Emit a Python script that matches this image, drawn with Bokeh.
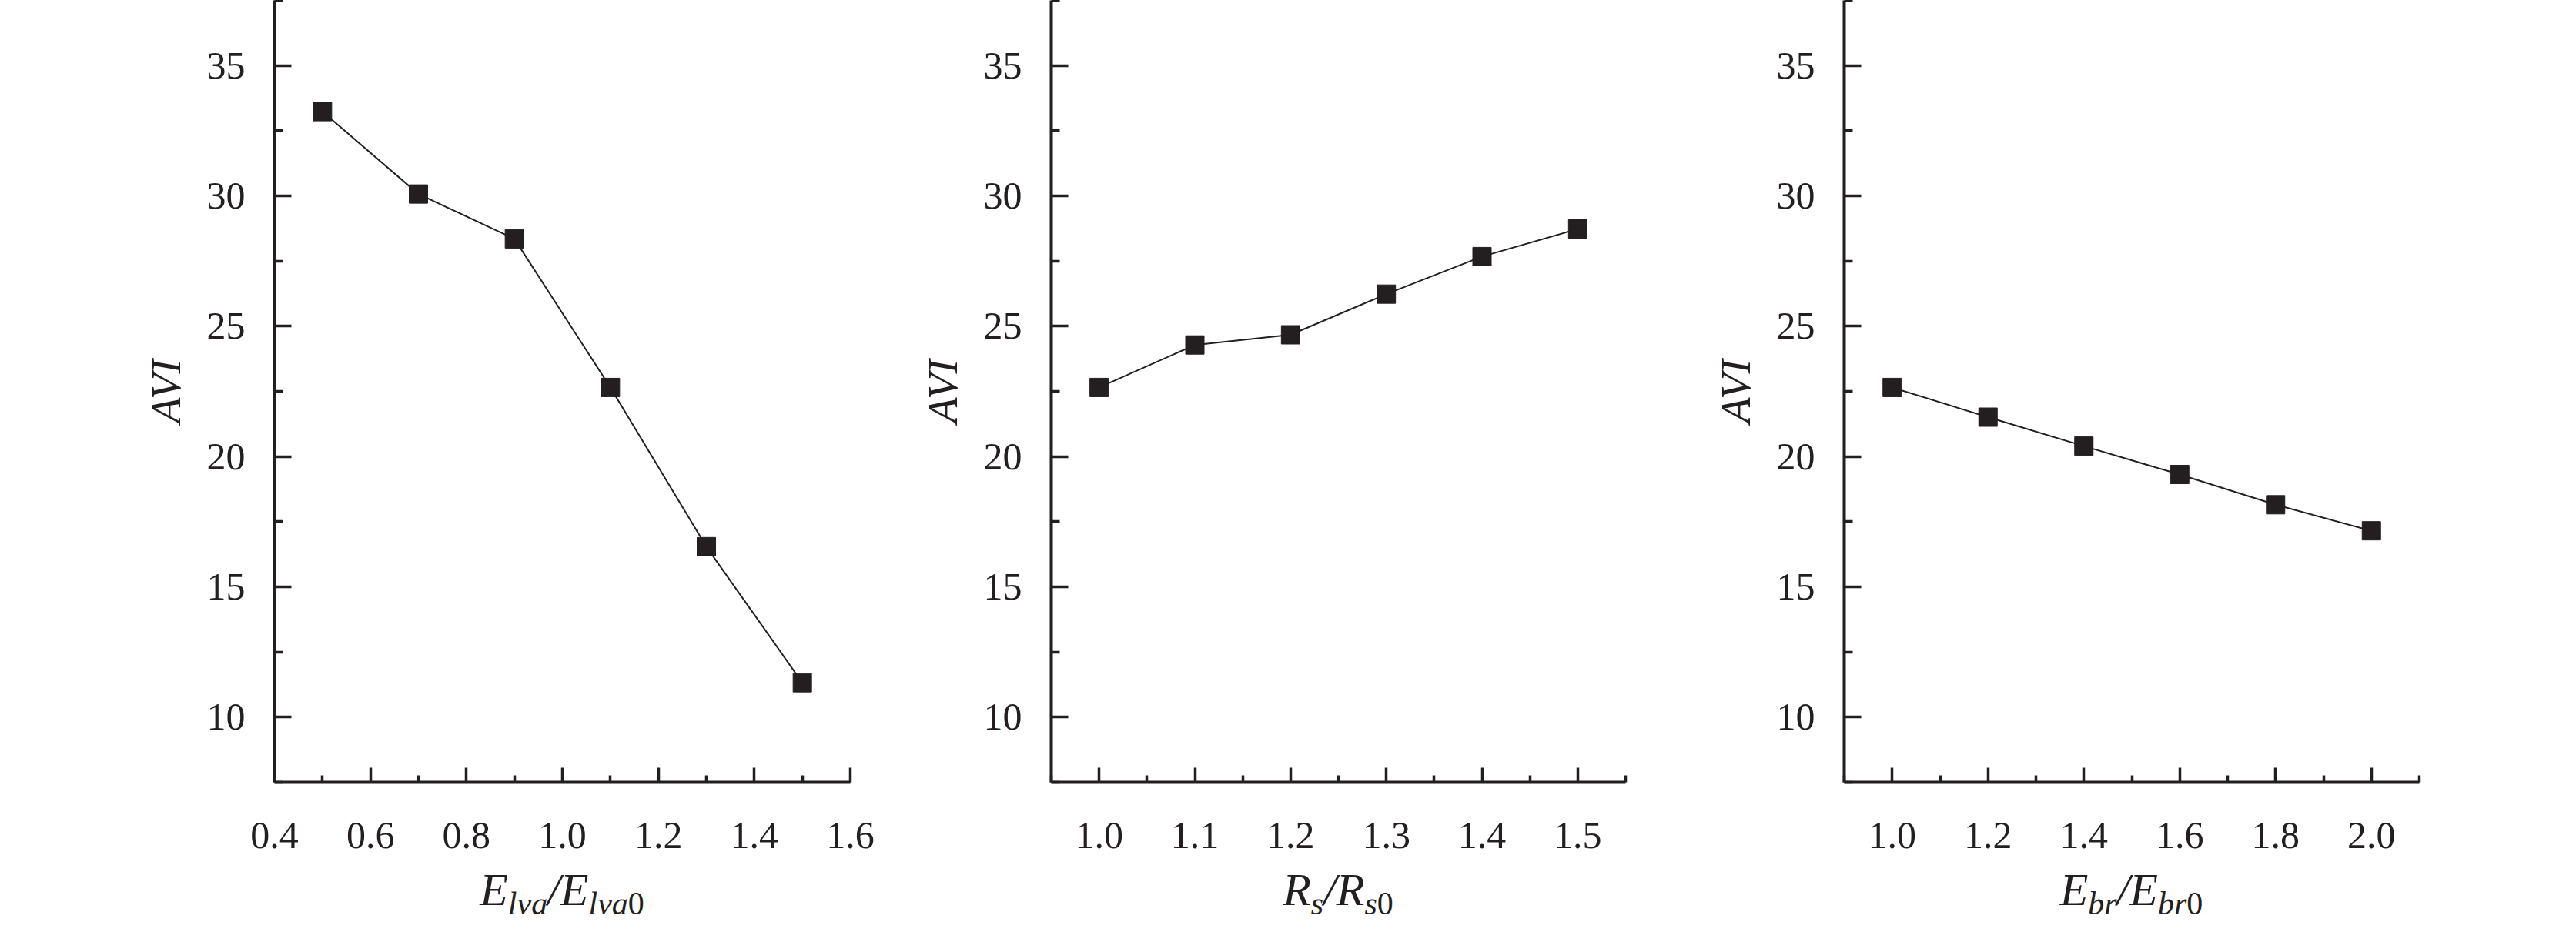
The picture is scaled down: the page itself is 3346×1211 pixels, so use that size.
from bokeh.plotting import figure
from bokeh.layouts import row, column
from bokeh.models import Range1d, FixedTicker, NumeralTickFormatter, Div
from bokeh.embed import file_html
from bokeh.resources import INLINE

# ---- data ----
x_elva = [0.5, 0.7, 0.9, 1.1, 1.3, 1.5]
avi_elva = [33.23, 30.07, 28.35, 22.65, 16.54, 11.32]

x_rs = [1.0, 1.1, 1.2, 1.3, 1.4, 1.5]
avi_rs = [22.65, 24.28, 24.67, 26.23, 27.67, 28.73]

x_ebr = [1.0, 1.2, 1.4, 1.6, 1.8, 2.0]
avi_ebr = [22.65, 21.51, 20.40, 19.31, 18.15, 17.15]

y_major = [10, 15, 20, 25, 30, 35]
y_minor = [7.5, 12.5, 17.5, 22.5, 27.5, 32.5, 37.5]

x1_major = [0.4, 0.6, 0.8, 1.0, 1.2, 1.4, 1.6]
x1_minor = [0.5, 0.7, 0.9, 1.1, 1.3, 1.5]
x2_major = [1.0, 1.1, 1.2, 1.3, 1.4, 1.5]
x2_minor = [0.95, 1.05, 1.15, 1.25, 1.35, 1.45, 1.55]
x3_major = [1.0, 1.2, 1.4, 1.6, 1.8, 2.0]
x3_minor = [0.9, 1.1, 1.3, 1.5, 1.7, 1.9, 2.1]

# x-axis titles: (main symbol, subscript)
title1 = ("E", "lva")
title2 = ("R", "s")
title3 = ("E", "br")

INK = "#231f20"
FONT = "Liberation Serif"
FRAME_H = 1016
BORDER_B = 110


def make_fig(xr, xmaj, xmin, xs, ys, bl, fw, br):
    p = figure(output_backend="svg", toolbar_location=None,
               frame_width=fw, frame_height=FRAME_H,
               min_border_left=bl, min_border_right=br,
               min_border_top=0, min_border_bottom=BORDER_B,
               x_range=Range1d(*xr), y_range=Range1d(7.5, 37.5))
    p.outline_line_color = None
    p.grid.visible = False
    p.background_fill_color = "white"
    p.border_fill_color = "white"

    p.line(xs, ys, line_color=INK, line_width=2)
    p.scatter(xs, ys, marker="square", size=24, fill_color=INK, line_color=INK)

    xa = p.xaxis[0]
    xa.ticker = FixedTicker(ticks=xmaj, minor_ticks=xmin)
    xa.formatter = NumeralTickFormatter(format="0.0")
    xa.major_tick_in = 19
    xa.major_tick_out = 0
    xa.minor_tick_in = 9
    xa.minor_tick_out = 0
    xa.major_label_standoff = 52

    ya = p.yaxis[0]
    ya.ticker = FixedTicker(ticks=y_major, minor_ticks=y_minor)
    ya.formatter = NumeralTickFormatter(format="0")
    ya.major_tick_in = 22
    ya.major_tick_out = 0
    ya.minor_tick_in = 11
    ya.minor_tick_out = 0
    ya.major_label_standoff = 38
    ya.axis_label = "AVI"
    ya.axis_label_text_font = FONT
    ya.axis_label_text_font_style = "italic"
    ya.axis_label_text_font_size = "55px"
    ya.axis_label_text_color = INK
    ya.axis_label_standoff = 20

    for ax in (xa, ya):
        ax.axis_line_color = INK
        ax.axis_line_width = 4
        ax.major_tick_line_color = INK
        ax.major_tick_line_width = 3.5
        ax.minor_tick_line_color = INK
        ax.minor_tick_line_width = 3.5
        ax.major_label_text_font = FONT
        ax.major_label_text_font_size = "50px"
        ax.major_label_text_color = INK
    return p


def make_title(sym, sub, bl, fw, br):
    sub_style = "font-size:42px;position:relative;top:12px;"
    html = (
        f'<div style="margin-left:{bl}px;width:{fw}px;text-align:center;'
        f"font-family:'{FONT}';font-size:60px;line-height:60px;font-style:italic;"
        f'color:{INK};padding-top:0px;white-space:nowrap;">'
        f'{sym}<span style="{sub_style}">{sub}</span>'
        f'/{sym}<span style="{sub_style}">{sub}'
        f'<span style="font-style:normal;">0</span></span></div>'
    )
    return Div(text=html, width=bl + fw + br, height=69, margin=0)


specs = [
    ((0.4, 1.6), x1_major, x1_minor, x_elva, avi_elva, title1, 356, 748, 40),
    ((0.95, 1.55), x2_major, x2_minor, x_rs, avi_rs, title2, 221, 746, 84),
    ((0.9, 2.1), x3_major, x3_minor, x_ebr, avi_ebr, title3, 200, 747, 40),
]

cols = []
for xr, xmaj, xmin, xs, ys, (sym, sub), bl, fw, br in specs:
    p = make_fig(xr, xmaj, xmin, xs, ys, bl, fw, br)
    d = make_title(sym, sub, bl, fw, br)
    cols.append(column(p, d, spacing=0))

layout = row(*cols, spacing=0)
open("out.html", "w").write(file_html(layout, INLINE))
